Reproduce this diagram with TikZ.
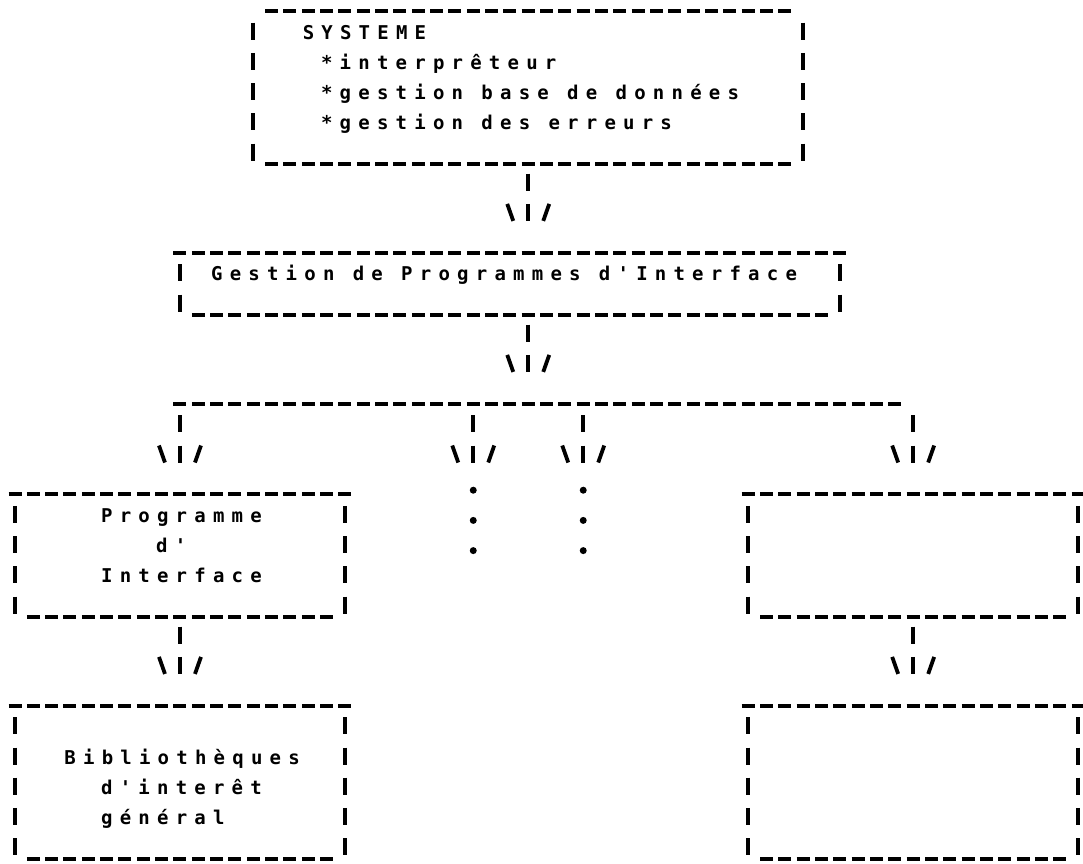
\documentclass[tikz,border=0pt]{standalone}
\usepackage{fontspec}
\usetikzlibrary{arrows.meta,positioning}
\newfontfamily\prt[LetterSpace=38,Ligatures=TeXOff]{DejaVu Sans Mono Bold}
\newlength{\chpitch}\setlength{\chpitch}{18.33pt}
\newcommand{\pad}[1]{\hspace*{#1\chpitch}}
\newcommand{\gap}{\hspace{\chpitch}}
\newcommand{\prtfont}{\prt\fontsize{19}{30.2}\selectfont}

% the printer's \|/ head
\pgfdeclarearrow{
  name = Slashes,
  setup code = {
    \pgfarrowssettipend{0pt}
    \pgfarrowssetlineend{0pt}
    \pgfarrowssetbackend{-17pt}
  },
  drawing code = {
    \pgfsetdash{}{0pt}
    \pgfpathmoveto{\pgfqpoint{-17pt}{21pt}}
    \pgfpathlineto{\pgfqpoint{0pt}{15pt}}
    \pgfpathmoveto{\pgfqpoint{-17pt}{-21pt}}
    \pgfpathlineto{\pgfqpoint{0pt}{-15pt}}
    \pgfusepathqstroke
  }
}

\tikzset{
  hrule/.style={line width=3.8pt, dash pattern=on 13pt off 5.33pt},
  vrule/.style={line width=3.8pt, dash pattern=on 17pt off 13.2pt, dash phase=18.5pt},
  pbox/.style={rectangle, inner sep=0pt, outer sep=0pt},
  feed/.style={line width=3.8pt, dash pattern=on 17pt off 13.2pt, -{Slashes},
    shorten <=9.7pt, shorten >=31.7pt},
  txt/.style={inner sep=0pt, anchor=base west, align=left, text width=600pt,
    font=\prtfont},
}
\tikzstyle{dot} = [circle,fill=black,inner sep=0pt,minimum size=7pt]

% dashes on top, | on the sides, underscores below
\newcommand{\asciiframe}[2]{%
  \draw[hrule] ([xshift={#2}]#1.north west) -- ([xshift={-(#2)}]#1.north east);
  \draw[hrule] ([xshift=11.83pt]#1.south west) -- ([xshift=-11.83pt]#1.south east);
  \draw[vrule] (#1.north west) -- (#1.south west);
  \draw[vrule] (#1.north east) -- (#1.south east);
}

\begin{document}
\begin{tikzpicture}[x=1pt, y=-1pt,
    declare function={cx(\c)=15+18.33*\c; ry(\r)=1+30.2*\r;}]
  \useasboundingbox (0,0) rectangle (1083,863);

  \node [pbox, minimum width=549.9pt, minimum height=153pt] (sys) at ({cx(28)},87.5) {};
  \node [pbox, minimum width=659.88pt, minimum height=62.4pt] (gpi) at ({cx(27)},283.8) {};
  \node [pbox, minimum width=329.94pt, minimum height=122.8pt] (pgm) at ({cx(9)},555.6) {};
  \node [pbox, minimum width=329.94pt, minimum height=122.8pt] (pgmR) at ({cx(49)},555.6) {};
  \node [pbox, minimum width=329.94pt, minimum height=153pt] (lib) at ({cx(9)},782.1) {};
  \node [pbox, minimum width=329.94pt, minimum height=153pt] (libR) at ({cx(49)},782.1) {};

  \foreach \bx/\ins in {sys/11.83pt, gpi/-6.5pt, pgm/-6.5pt, pgmR/-6.5pt, lib/-6.5pt, libR/-6.5pt}
    {\asciiframe{\bx}{\ins}}

  \node [txt] (systxt) at ({cx(16)-5.72},{ry(1)+8})
    {SYSTEME\\\pad{1}*interprêteur\\\pad{1}*gestion\gap{}base\gap{}de\gap{}données\\\pad{1}*gestion\gap{}des\gap{}erreurs};
  \node [txt] (gpitxt) at ({cx(11)-5.72},{ry(9)+8}) {Gestion\gap{}de\gap{}Programmes\gap{}d'Interface};
  \node [txt] (pgmtxt) at ({cx(5)-5.72},{ry(17)+8}) {Programme\\\pad{3}d'\\Interface};
  \node [txt] (libtxt) at ({cx(3)-5.72},{ry(25)+8}) {Bibliothèques\\\pad{2}d'interêt\\\pad{2}général};

  % fan-out bar
  \coordinate (barL) at ({cx(9)-6.5},{ry(13)+10});
  \coordinate (barR) at ({cx(48)+6.5},{ry(13)+10});
  \coordinate (hub) at ({cx(28)},{ry(13)+10});
  \draw [hrule] (barL) -- (barR);

  \draw [feed] (sys.south) -- (sys.south |- gpi.north);
  \draw [feed] (gpi.south -| hub) -- (hub);
  \foreach \t in {pgm,pgmR}
    \draw [feed, shorten <=11.7pt] (\t.north |- barL) -- (\t.north);
  \foreach \c in {25,31} {
    \coordinate (stub\c) at ({cx(\c)},{ry(16)+10});
    \draw [feed, shorten <=11.7pt] (stub\c |- barL) -- (stub\c);
    \foreach \r in {16,17,18}
      \node [dot] (dot\c-\r) at ({cx(\c)},{ry(\r)+6}) {};
  }
  \draw [feed] (pgm.south) -- (lib.north);
  \draw [feed] (pgmR.south) -- (libR.north);
\end{tikzpicture}
\end{document}
